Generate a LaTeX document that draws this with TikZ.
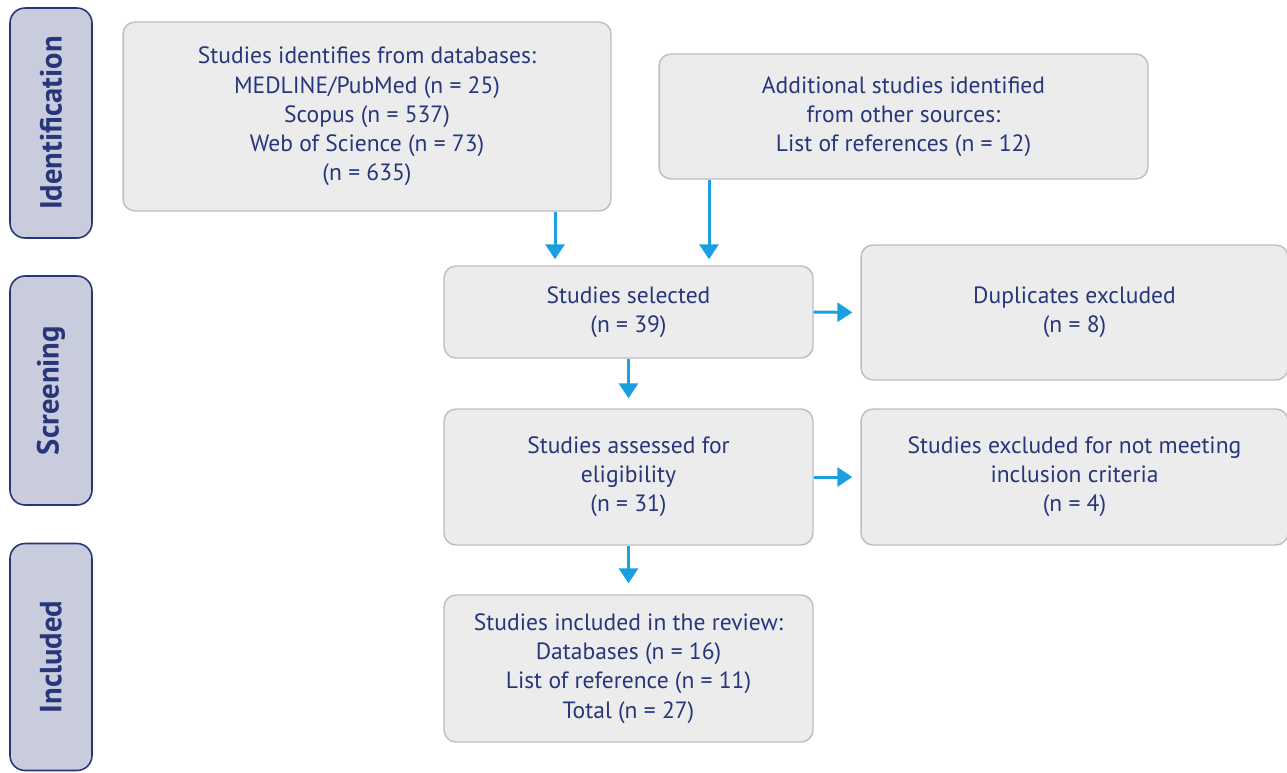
\documentclass[tikz,border=0pt]{standalone}
\usepackage{fontspec}
\setmainfont{PT Sans}
\usepackage{tikz}
\usetikzlibrary{arrows.meta,positioning}

\definecolor{navy}{HTML}{27367A}
\definecolor{stagefill}{HTML}{C9CCDC}
\definecolor{boxfill}{HTML}{ECECEC}
\definecolor{boxline}{HTML}{BDBDBD}
\definecolor{flow}{HTML}{1A9FE0}

\begin{document}
\begin{tikzpicture}[x=0.02cm,y=-0.02cm,
	stage/.style={draw=navy,fill=stagefill,line width=0.9pt,rounded corners=0.3cm,
		minimum width=1.64cm},
	stagetext/.style={rotate=90,text=navy,font=\fontsize{17.4}{20}\selectfont\bfseries},
	box/.style={draw=boxline,fill=boxfill,line width=0.8pt,rounded corners=0.24cm,
		align=center,text=navy,font=\fontsize{13.4}{16.6}\selectfont},
	flowarrow/.style={draw=flow,line width=1.7pt,
		-{Triangle[width=0.38cm,length=0.3cm]}}]
	\useasboundingbox (0,0) rectangle (1287,772);

	% stages on the left
	\path (51,123) node (ident) [stage,minimum height=4.6cm] {}
		  (51,390.5) node (screen) [stage,minimum height=4.58cm] {}
		  (51,657) node (incl) [stage,minimum height=4.54cm] {};
	\node[stagetext] at (ident) {Identification};
	\node[stagetext] at (screen) {Screening};
	\node[stagetext] at (incl) {Included};

	% flow boxes
	\path (367,116.5) node (db) [box,minimum width=9.76cm,minimum height=3.78cm]
			{Studies identifies from databases:\\MEDLINE/PubMed (n = 25)\\Scopus (n = 537)\\Web of Science (n = 73)\\(n = 635)}
		  (903.5,116.5) node (other) [box,minimum width=9.78cm,minimum height=2.5cm]
			{Additional studies identified\\from other sources:\\List of references (n = 12)}
		  (628.5,312) node (sel) [box,minimum width=7.38cm,minimum height=1.84cm]
			{Studies selected\\(n = 39)}
		  (1074.5,312.5) node (dup) [box,minimum width=8.54cm,minimum height=2.7cm]
			{Duplicates excluded\\(n = 8)}
		  (628.5,477) node (elig) [box,minimum width=7.38cm,minimum height=2.72cm]
			{Studies assessed for\\eligibility\\(n = 31)}
		  (1074.5,477) node (excl) [box,minimum width=8.54cm,minimum height=2.72cm]
			{Studies excluded for not meeting\\inclusion criteria\\(n = 4)}
		  (628.5,668.5) node (incd) [box,minimum width=7.38cm,minimum height=2.94cm]
			{Studies included in the review:\\Databases (n = 16)\\List of reference (n = 11)\\Total (n = 27)};

	% connectors
	\coordinate (dbx) at (555,0);
	\coordinate (otherx) at (709,0);
	\draw[flowarrow,shorten >=0.12cm] (dbx |- db.south) -- (dbx |- sel.north);
	\draw[flowarrow,shorten >=0.12cm] (otherx |- other.south) -- (otherx |- sel.north);
	\draw[flowarrow,shorten >=0.16cm] (sel.east) -- (dup.west);
	\draw[flowarrow,shorten >=0.2cm] (sel.south) -- (elig.north);
	\draw[flowarrow,shorten >=0.16cm] (elig.east) -- (excl.west);
	\draw[flowarrow,shorten >=0.22cm] (elig.south) -- (incd.north);
\end{tikzpicture}
\end{document}
